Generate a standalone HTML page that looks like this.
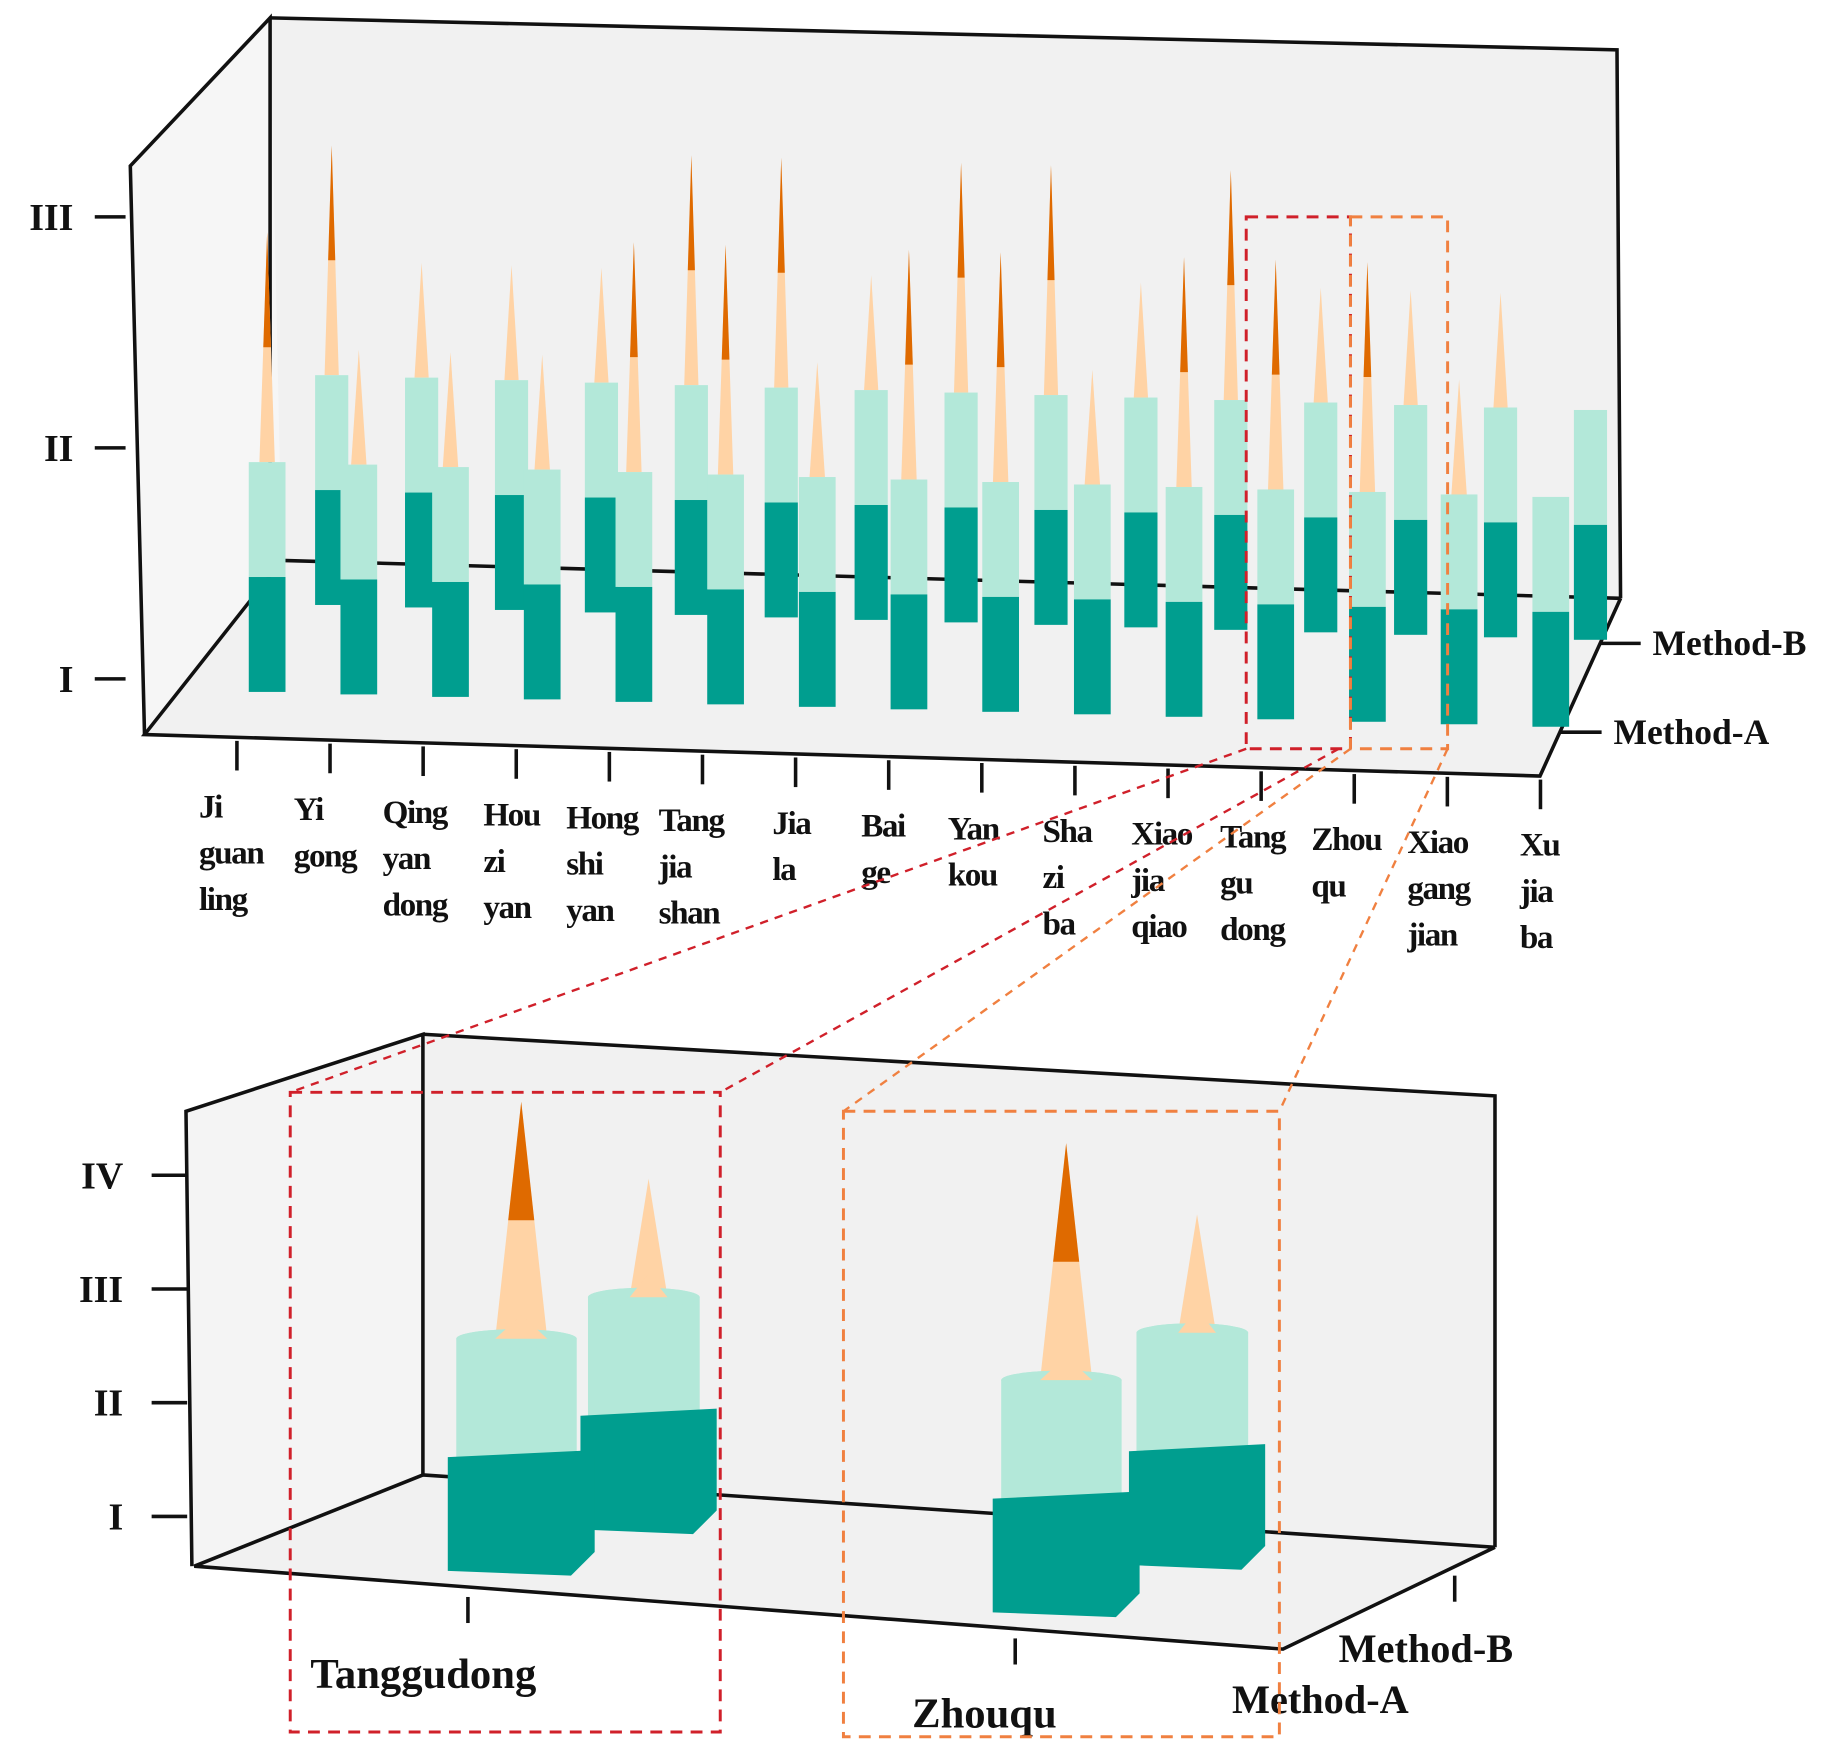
<!DOCTYPE html>
<html><head><meta charset="utf-8"><style>
html,body{margin:0;padding:0;background:#fff}
svg{display:block}
text{font-family:"Liberation Serif",serif;font-weight:bold;fill:#111}
</style></head><body>
<svg id="chart" width="1848" height="1757" viewBox="0 0 1560 1483" xmlns="http://www.w3.org/2000/svg">
<g id="top">
  <polygon points="228,15 1365,42 1368,505 238,473 228,473" fill="#f1f1f1"/>
  <polygon points="238,473 1368,505 1300,655 122,620" fill="#f1f1f1"/>
  <polygon points="110,140 228,15 238,473 122,620" fill="#f6f6f6"/>
  <g stroke="#111" stroke-width="3" fill="none">
    <polyline points="228,473 228,15 110,140 122,620"/>
    <polyline points="228,15 1365,42 1368,505"/>
    <line x1="238" y1="473" x2="1368" y2="505"/>
    <polyline points="238,473 122,620 1300,655 1368,505"/>
  </g>
  <g id="topYAxis"></g>
  <g id="topBars"></g>
  <g id="topLabels"></g>
  <g stroke="#111" stroke-width="3">
    <line x1="1351" y1="543" x2="1385" y2="543"/>
    <line x1="1317" y1="618" x2="1352" y2="618"/>
  </g>
  <text x="1395" y="553" font-size="30">Method-B</text>
  <text x="1362" y="628" font-size="30">Method-A</text>
</g>
<g id="inset">
  <polygon points="357,873 1262,925 1262,1306 357,1245" fill="#f1f1f1"/>
  <polygon points="357,1245 1262,1306 1083,1390 164,1322" fill="#f1f1f1"/>
  <polygon points="157,938 357,873 357,1245 164,1322" fill="#f4f4f4"/>
  <g stroke="#111" stroke-width="3" fill="none">
    <polyline points="357,1245 357,873 157,938 162,1322"/>
    <polyline points="357,873 1262,925 1262,1306"/>
    <line x1="357" y1="1245" x2="1262" y2="1306"/>
    <polyline points="357,1245 164,1322 1083,1392 1262,1306"/>
    <line x1="395" y1="1348" x2="395" y2="1370"/>
    <line x1="857" y1="1383" x2="857" y2="1405"/>
    <line x1="1228" y1="1330" x2="1228" y2="1352"/>
  </g>
  <g id="insetYAxis"></g>
  <g id="insetBars"></g>
  <text x="262" y="1425" font-size="36">Tanggudong</text>
  <text x="770" y="1458" font-size="36">Zhouqu</text>
  <text x="1130" y="1403" font-size="34">Method-B</text>
  <text x="1040" y="1446" font-size="34">Method-A</text>
  <rect x="245" y="922" width="363" height="540" fill="none" stroke="#d0202a" stroke-width="2.5" stroke-dasharray="10,7"/>
  <rect x="712" y="938" width="368" height="528" fill="none" stroke="#f08040" stroke-width="2.5" stroke-dasharray="10,7"/>
</g>
<g fill="none" stroke-width="2.5" stroke-dasharray="10,7">
  <rect x="1052" y="183" width="88" height="449" stroke="#d0202a"/>
  <rect x="1140" y="183" width="82" height="449" stroke="#f08040"/>
  <line x1="1052" y1="632" x2="245" y2="922" stroke="#d0202a" stroke-width="2" stroke-dasharray="7,6"/>
  <line x1="1130" y1="632" x2="608" y2="922" stroke="#d0202a" stroke-width="2" stroke-dasharray="7,6"/>
  <line x1="1140" y1="632" x2="712" y2="938" stroke="#f08040" stroke-width="2" stroke-dasharray="7,6"/>
  <line x1="1222" y1="632" x2="1080" y2="938" stroke="#f08040" stroke-width="2" stroke-dasharray="7,6"/>
</g>
</svg>
<script>
const sites = ["Ji guan ling","Yi gong","Qing yan dong","Hou zi yan","Hong shi yan","Tang jia shan","Jia la","Bai ge","Yan kou","Sha zi ba","Xiao jia qiao","Tang gu dong","Zhou qu","Xiao gang jian","Xu jia ba"];
const methodA = [4,3,3,3,4,4,3,4,4,3,4,4,4,3,2];
const methodB = [4,3,3,3,4,4,3,4,4,3,4,3,3,3,2];
const topTicks = ["I","II","III"];
const insetSites = ["Tanggudong","Zhouqu"];
const insetA = [4,4];
const insetB = [3,3];
const insetTicks = ["I","II","III","IV"];

const NS="http://www.w3.org/2000/svg";
function mk(tag,attrs,parent){const e=document.createElementNS(NS,tag);for(const k in attrs)e.setAttribute(k,attrs[k]);parent.appendChild(e);return e;}
const C={dark:"#009e8f",light:"#b3e8d9",peach:"#ffd3a5",orange:"#df6a00"};

const topY=v=>573-(v-1)*195;
const tya=document.getElementById("topYAxis");
topTicks.forEach((t,i)=>{
  const l=mk("line",{x1:80,x2:106,y1:topY(i+1),y2:topY(i+1),stroke:"#111","stroke-width":3},tya);
  
  
  const tx=mk("text",{x:62,y:topY(i+1)+11,"font-size":32,"text-anchor":"end"},tya);
  tx.textContent=t;
  
  
});

const SEG=97;
function drawBar(g,x,w,base,cls,seg,coneW){
  const y=v=>base-v*seg;
  const cx=x+w/2;
  if(cls>2){
    const top=y(cls);
    const c=mk("polygon",{points:`${cx-coneW/2},${y(2)} ${cx+coneW/2},${y(2)} ${cx},${top}`,fill:C.peach},g);
    
    
    if(cls>3){
      const f=(y(3)-top)/(y(2)-top);
      const hw=coneW/2*f;
      const o=mk("polygon",{points:`${cx-hw},${y(3)} ${cx+hw},${y(3)} ${cx},${top}`,fill:C.orange},g);
      
      
    }
  }
  const lt=mk("rect",{x:x,y:y(2),width:w,height:seg,fill:C.light},g);
  
  
  const dk=mk("rect",{x:x,y:y(1),width:w,height:seg,fill:C.dark},g);
  
  
}
const tb=document.getElementById("topBars");
sites.forEach((s,i)=>{
  const g=mk("g",{},tb);
  
  
  drawBar(g,266+i*75.9,28,510.6+i*2.1,methodB[i],SEG,12);
});
sites.forEach((s,i)=>{
  const g=mk("g",{},tb);
  
  
  drawBar(g,210+i*77.4,31,584+i*2.1,methodA[i],SEG,13);
});

const tl=document.getElementById("topLabels");
const labelX=[168,248,323,408,478,556,652,727,800,880,955,1030,1107,1188,1283];
sites.forEach((s,i)=>{
  const tx=200+i*78.6;
  const fy=620+(tx-122)*35/1178;
  const tk=mk("line",{x1:tx,x2:tx,y1:fy+3,y2:fy+28,stroke:"#111","stroke-width":3},tl);
  
  
  const words=s.split(" ");
  const t=mk("text",{x:labelX[i],y:690+i*2.3,"font-size":28,"letter-spacing":"-1.2"},tl);
  
  
  words.forEach((w,k)=>{const sp=mk("tspan",{x:labelX[i],dy:k?39:0},t);sp.textContent=w;});
});

const iy=document.getElementById("insetYAxis");
const insY=v=>1280-(v-1)*96;
insetTicks.forEach((t,i)=>{
  const l=mk("line",{x1:128,x2:158,y1:insY(i+1),y2:insY(i+1),stroke:"#111","stroke-width":3},iy);
  
  
  const tx=mk("text",{x:104,y:insY(i+1)+11,"font-size":32,"text-anchor":"end"},iy);
  tx.textContent=t;
  
  
});
const ib=document.getElementById("insetBars");
const inAX=[378,838],inAB=[1330,1365],inBX=[490,953],inBB=[1295,1325];
function drawBig(g,x,w,base,cls,coneW){
  const seg=100,y=v=>base-v*seg,cx=x+w/2;
  if(cls>2){
    const top=y(cls);
    const c=mk("polygon",{points:`${cx-coneW/2},${y(2)} ${cx+coneW/2},${y(2)} ${cx},${top}`,fill:C.peach},g);
    
    
    if(cls>3){
      const hw=coneW/2*0.5;
      const o=mk("polygon",{points:`${cx-hw},${y(3)} ${cx+hw},${y(3)} ${cx},${top}`,fill:C.orange},g);
      
      
    }
  }
  const lw=w*0.82,lx=x+(w-lw)/2-4;
  const lt=mk("path",{d:`M${lx},${y(2)} L${lx},${y(1)} A${lw/2},8 0 0 0 ${lx+lw},${y(1)} L${lx+lw},${y(2)} A${lw/2},8 0 0 0 ${lx},${y(2)} Z`,fill:C.light},g);
  
  
  const dk=mk("polygon",{points:`${x},${y(1)} ${x+w},${y(1)-6} ${x+w},${base-20} ${x+w-20},${base} ${x},${base-4}`,fill:C.dark},g);
  
  
  const cap=mk("ellipse",{cx:lx+lw/2,cy:y(2),rx:lw/2,ry:8,fill:C.light},g);
  
  
  if(cls>2){const c2=mk("polygon",{points:`${cx-coneW/2},${y(2)} ${cx+coneW/2},${y(2)} ${cx},${y(2)-20}`,fill:C.peach},g);
    
    }
}
insetSites.forEach((s,i)=>{
  const g=mk("g",{},ib);
  
  
  drawBig(g,inBX[i],115,inBB[i],insetB[i],32);
  const g2=mk("g",{},ib);
  
  
  drawBig(g2,inAX[i],124,inAB[i],insetA[i],44);
});
</script>
</body></html>
